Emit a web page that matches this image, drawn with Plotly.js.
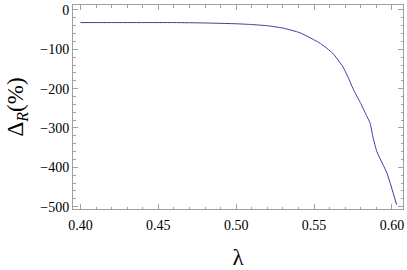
<!DOCTYPE html>
<html>
<head>
<meta charset="utf-8">
<script src="https://cdn.plot.ly/plotly-3.0.1.min.js"></script>
<style>
  html, body { margin: 0; padding: 0; background: #fff; }
  #chart { width: 407px; height: 270px; }
</style>
</head>
<body>
<div id="chart"></div>
<script>
// values
var lambda = [0.400, 0.420, 0.440, 0.460, 0.480, 0.500, 0.510, 0.520, 0.530, 0.541,
              0.554, 0.562, 0.5686, 0.5724, 0.575, 0.580, 0.584, 0.586, 0.5878,
              0.5904, 0.5968, 0.6030];
var deltaR = [-32, -32, -32, -32, -33, -35, -37, -40, -46, -58,
              -85, -110, -145, -176, -200, -238, -271, -288, -323,
              -361, -415, -495];

var xTicks = [0.40, 0.45, 0.50, 0.55, 0.60];
var yTicks = [0, -100, -200, -300, -400, -500];

var frame = 'rgb(160,160,160)';
var serif = 'Liberation Serif';

var curve = {
  x: lambda,
  y: deltaR,
  mode: 'lines',
  line: { color: 'rgb(61,61,160)', width: 1, shape: 'spline', smoothing: 0.5 },
  hoverinfo: 'skip'
};

var layout = {
  width: 407,
  height: 270,
  margin: { l: 73, r: 4, t: 5, b: 61 },
  paper_bgcolor: 'white',
  plot_bgcolor: 'white',
  showlegend: false,
  font: { family: serif, size: 14, color: 'black' },
  xaxis: {
    range: [0.3952, 0.6071],
    tickvals: xTicks,
    tickformat: '.2f',
    tickfont: { family: serif, size: 14 },
    showgrid: false,
    zeroline: false,
    showline: true,
    linecolor: frame,
    linewidth: 1,
    mirror: 'allticks',
    ticks: 'inside',
    ticklen: 5,
    tickcolor: frame,
    ticklabelstandoff: 3,
    minor: { dtick: 0.01, ticks: 'inside', ticklen: 2.5, tickcolor: frame, showgrid: false },
    title: { text: 'λ', font: { family: serif, size: 23 }, standoff: 18 }
  },
  yaxis: {
    range: [-506, 12.7],
    tickvals: yTicks,
    tickfont: { family: serif, size: 14 },
    showgrid: false,
    zeroline: false,
    showline: true,
    linecolor: frame,
    linewidth: 1,
    mirror: 'allticks',
    ticks: 'inside',
    ticklen: 5,
    tickcolor: frame,
    minor: { dtick: 20, ticks: 'inside', ticklen: 2.5, tickcolor: frame, showgrid: false },
    title: { text: 'Δ<sub><i>R</i></sub>(%)', font: { family: serif, size: 23 }, standoff: 10 }
  }
};

Plotly.newPlot('chart', [curve], layout, { staticPlot: true, displayModeBar: false });
</script>
</body>
</html>
